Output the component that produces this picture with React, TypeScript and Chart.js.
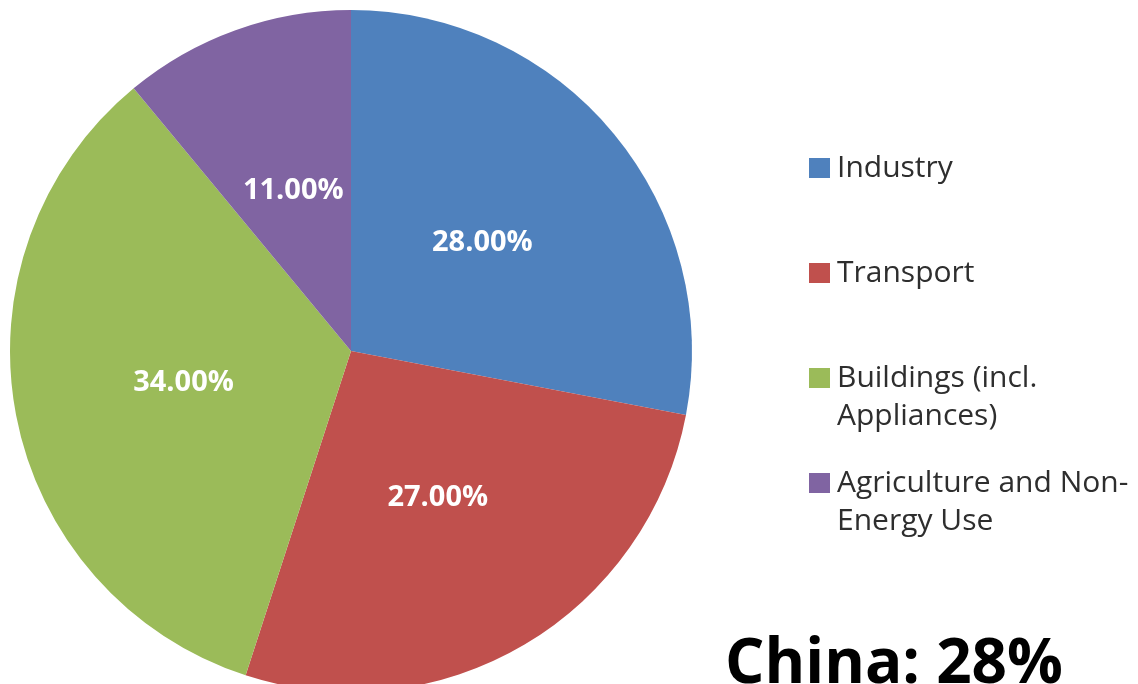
import React, { useEffect, useRef } from 'react';
import { Chart, registerables } from 'chart.js';

Chart.register(...registerables);

// ---- data ----
const categories = ['Industry', 'Transport', 'Buildings (incl. Appliances)', 'Agriculture and Non-Energy Use'];
const shares = [28, 27, 34, 11];
const sliceColors = ['#4F81BD', '#C0504D', '#9BBB59', '#8064A2'];
const legendLines = [['Industry'], ['Transport'], ['Buildings (incl.', 'Appliances)'], ['Agriculture and Non-', 'Energy Use']];
const titleText = 'China: 28%';

const W = 1138;
const H = 684;

const labelPlugin = {
  id: 'sliceLabels',
  afterDatasetsDraw(chart: any) {
    const ctx = chart.ctx;
    const meta = chart.getDatasetMeta(0);
    const data = chart.data.datasets[0].data;
    ctx.save();
    ctx.font = 'bold 29px "Open Sans"';
    ctx.fillStyle = '#ffffff';
    ctx.textAlign = 'center';
    ctx.textBaseline = 'middle';
    meta.data.forEach((arc: any, i: number) => {
      const p = arc.tooltipPosition(false);
      ctx.fillText(Number(data[i]).toFixed(2) + '%', p.x, p.y);
    });
    ctx.restore();
  },
};

export default function App() {
  const ref = useRef<HTMLCanvasElement | null>(null);

  useEffect(() => {
    if (!ref.current) return;
    const chart = new Chart(ref.current, {
      type: 'pie',
      data: {
        labels: categories,
        datasets: [
          {
            data: shares,
            backgroundColor: sliceColors,
            borderWidth: 0,
          },
        ],
      },
      options: {
        responsive: false,
        animation: false,
        radius: 341,
        layout: { padding: { left: 0, right: W - 702, top: 18, bottom: 0 } },
        plugins: {
          legend: { display: false },
          tooltip: { enabled: false },
          title: { display: false },
        },
      } as any,
      plugins: [labelPlugin],
    });
    return () => chart.destroy();
  }, []);

  const legendFont = 30;
  const legendLineH = legendFont;
  const baselineOffset = legendFont * 0.888;
  const firstBaseline = 178;
  const itemStep = 105;
  const secondLineGap = 38;

  const titleSize = 62;
  const titleBaseline = 683;

  return (
    <div
      style={{
        position: 'fixed',
        left: 0,
        top: 0,
        width: W,
        height: H,
        overflow: 'hidden',
        background: '#ffffff',
      }}
    >
      <canvas ref={ref} width={W} height={H} style={{ position: 'absolute', left: 0, top: 0, width: W, height: H }} />
      {legendLines.map((lines, i) => {
        const base = firstBaseline + i * itemStep;
        return (
          <React.Fragment key={i}>
            <div
              style={{
                position: 'absolute',
                left: 809,
                top: base - 20,
                width: 21,
                height: 20,
                background: sliceColors[i],
              }}
            />
            {lines.map((ln, j) => (
              <div
                key={j}
                style={{
                  position: 'absolute',
                  left: 837,
                  top: base + j * secondLineGap - baselineOffset,
                  fontFamily: '"Open Sans", sans-serif',
                  fontSize: legendFont,
                  lineHeight: legendLineH + 'px',
                  color: '#2e2e2e',
                  whiteSpace: 'nowrap',
                }}
              >
                {ln}
              </div>
            ))}
          </React.Fragment>
        );
      })}
      <div
        style={{
          position: 'absolute',
          left: 725,
          top: titleBaseline - titleSize * 0.888,
          fontFamily: '"Open Sans", sans-serif',
          fontWeight: 700,
          fontSize: titleSize,
          lineHeight: titleSize + 'px',
          color: '#000000',
          whiteSpace: 'nowrap',
        }}
      >
        {titleText}
      </div>
    </div>
  );
}
